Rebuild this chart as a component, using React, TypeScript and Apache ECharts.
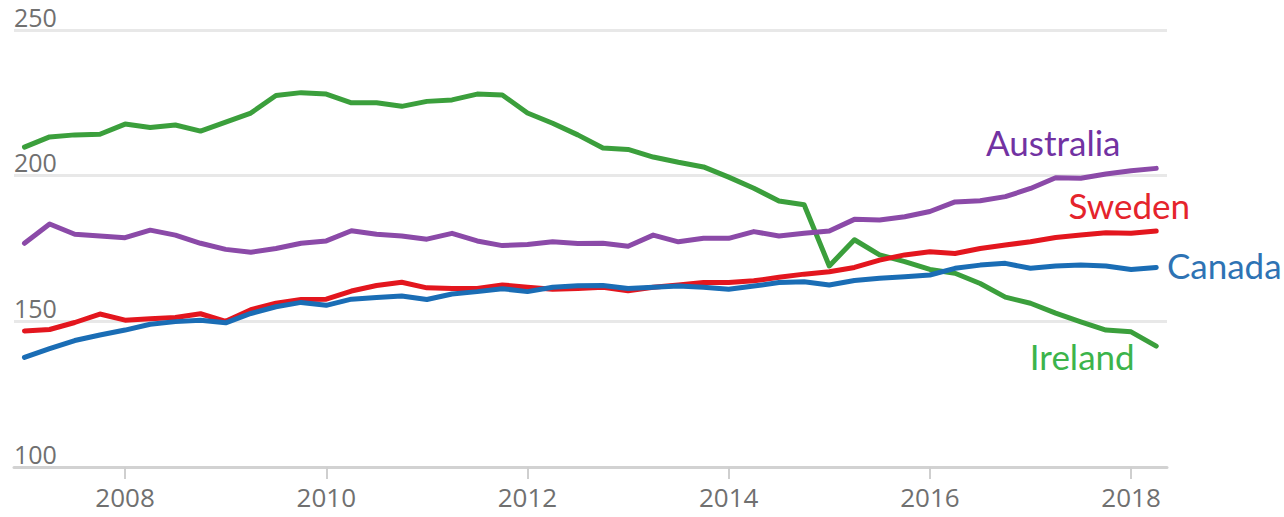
import React, { useEffect, useRef } from "react";
import * as echarts from "echarts";

const quarters = [
  "2007Q1", "2007Q2", "2007Q3", "2007Q4",
  "2008Q1", "2008Q2", "2008Q3", "2008Q4",
  "2009Q1", "2009Q2", "2009Q3", "2009Q4",
  "2010Q1", "2010Q2", "2010Q3", "2010Q4",
  "2011Q1", "2011Q2", "2011Q3", "2011Q4",
  "2012Q1", "2012Q2", "2012Q3", "2012Q4",
  "2013Q1", "2013Q2", "2013Q3", "2013Q4",
  "2014Q1", "2014Q2", "2014Q3", "2014Q4",
  "2015Q1", "2015Q2", "2015Q3", "2015Q4",
  "2016Q1", "2016Q2", "2016Q3", "2016Q4",
  "2017Q1", "2017Q2", "2017Q3", "2017Q4",
  "2018Q1", "2018Q2",
];

const australia = [
  176.8, 183.4, 179.9, 179.3, 178.7, 181.3, 179.6, 176.8, 174.7, 173.7,
  175.0, 176.8, 177.6, 181.1, 179.9, 179.3, 178.2, 180.2, 177.6, 176.0,
  176.4, 177.3, 176.7, 176.8, 175.8, 179.6, 177.3, 178.5, 178.5, 180.8,
  179.3, 180.2, 181.0, 185.0, 184.8, 185.9, 187.7, 191.0, 191.4, 192.8,
  195.6, 199.3, 199.1, 200.6, 201.7, 202.5,
];

const sweden = [
  146.7, 147.2, 149.6, 152.5, 150.4, 150.9, 151.3, 152.6, 150.0, 154.0,
  156.2, 157.5, 157.6, 160.4, 162.3, 163.4, 161.5, 161.3, 161.3, 162.5,
  161.7, 161.0, 161.3, 161.7, 160.5, 161.7, 162.5, 163.3, 163.3, 163.9,
  165.1, 166.2, 167.0, 168.5, 171.0, 172.8, 173.9, 173.3, 175.0, 176.2,
  177.3, 178.8, 179.6, 180.4, 180.2, 181.0,
];

const canada = [
  137.6, 140.6, 143.4, 145.3, 147.0, 149.0, 149.9, 150.4, 149.5, 152.7,
  155.0, 156.5, 155.5, 157.6, 158.2, 158.7, 157.5, 159.4, 160.2, 161.2,
  160.2, 161.7, 162.2, 162.3, 161.3, 161.7, 162.1, 161.7, 161.0, 162.1,
  163.3, 163.6, 162.5, 164.0, 164.8, 165.3, 165.9, 168.2, 169.3, 169.9,
  168.2, 169.0, 169.3, 169.0, 167.8, 168.5,
];

const ireland = [
  209.8, 213.3, 214.0, 214.2, 217.7, 216.5, 217.4, 215.3, 218.4, 221.5,
  227.5, 228.5, 228.0, 225.0, 225.0, 223.8, 225.5, 226.0, 228.0, 227.7,
  221.5, 218.0, 214.0, 209.5, 209.0, 206.4, 204.6, 203.0, 199.5, 195.7,
  191.3, 190.0, 169.0, 178.0, 172.8, 170.5, 167.8, 166.5, 163.0, 158.3,
  156.2, 152.8, 149.8, 147.0, 146.4, 141.5,
];

const xTickYears = [2008, 2010, 2012, 2014, 2016, 2018];
const yTicks = [100, 150, 200, 250];

const seriesDefs = [
  { name: "Ireland", values: ireland, line: "#3b9f3c", label: "#3cb44b", dx: -74, dy: 10 },
  { name: "Australia", values: australia, line: "#8b4aa8", label: "#7232a2", dx: -103, dy: -26 },
  { name: "Sweden", values: sweden, line: "#e3161e", label: "#e5242c", dx: -27, dy: -26 },
  { name: "Canada", values: canada, line: "#1a6db5", label: "#2e73b4", dx: 68, dy: -2 },
];

function toYear(q: string): number {
  const [y, qq] = q.split("Q");
  return Number(y) + (Number(qq) - 1) / 4;
}

export default function App() {
  const ref = useRef<HTMLDivElement>(null);

  useEffect(() => {
    document.body.style.margin = "0";
    if (!ref.current) return;
    const chart = echarts.init(ref.current, undefined, { renderer: "svg" });
    const xs = quarters.map(toYear);

    chart.setOption({
      animation: false,
      grid: { left: 14, right: 117, top: 30, bottom: 50 },
      xAxis: {
        type: "value",
        min: 2006.896,
        max: 2018.357,
        axisLine: { show: true, lineStyle: { color: "#d2d2d2", width: 3 } },
        axisTick: {
          show: true,
          length: 12,
          customValues: xTickYears,
          lineStyle: { color: "#cfcfcf", width: 2 },
        },
        axisLabel: {
          customValues: xTickYears,
          color: "#707070",
          fontFamily: "Open Sans",
          fontSize: 26,
          margin: 17,
          formatter: (v: number) => String(v),
        },
        splitLine: { show: false },
      },
      yAxis: {
        type: "value",
        min: yTicks[0],
        max: yTicks[yTicks.length - 1],
        interval: 50,
        axisLine: { show: false },
        axisTick: { show: false },
        axisLabel: {
          inside: true,
          margin: 0,
          verticalAlign: "bottom",
          lineHeight: 23,
          padding: [0, 0, 2, 0],
          color: "#707070",
          fontFamily: "Open Sans",
          fontSize: 25,
        },
        splitLine: { show: true, lineStyle: { color: "#e8e8e8", width: 3 } },
      },
      series: seriesDefs.map((s) => ({
        name: s.name,
        type: "line",
        showSymbol: false,
        symbol: "none",
        data: s.values.map((v, i) => [xs[i], v]),
        lineStyle: { color: s.line, width: 5, cap: "round", join: "round" },
        itemStyle: { color: s.line },
      })),
    });

    const graphics = seriesDefs.map((s) => {
      const last = s.values.length - 1;
      const p = chart.convertToPixel({ gridIndex: 0 }, [xs[last], s.values[last]]) as number[];
      return {
        type: "text",
        x: p[0] + s.dx,
        y: p[1] + s.dy,
        style: {
          text: s.name,
          fill: s.label,
          fontFamily: "Lato",
          fontSize: 35,
          align: "center",
          verticalAlign: "middle",
        },
      };
    });
    chart.setOption({ graphic: graphics });

    return () => chart.dispose();
  }, []);

  return <div ref={ref} style={{ width: 1284, height: 517 }} />;
}
